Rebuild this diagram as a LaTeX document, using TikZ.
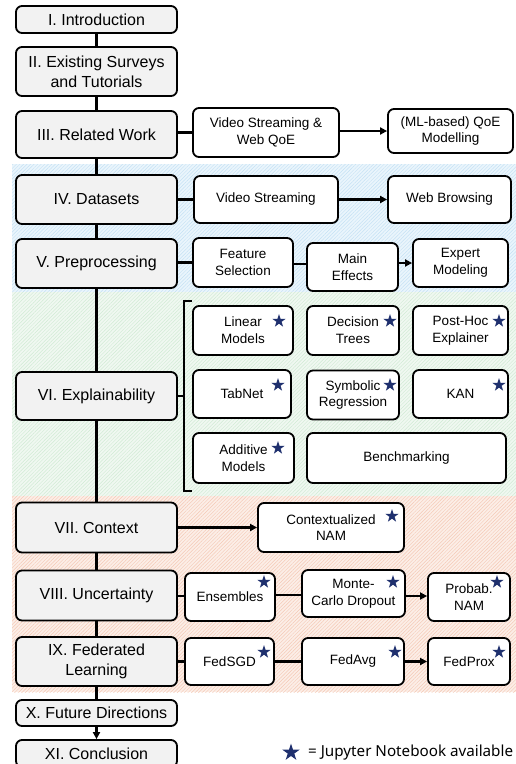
\documentclass[tikz,border=0pt]{standalone}
\usepackage{fontspec}
\setmainfont{Liberation Sans}
\newfontfamily\legendfont{Noto Sans}
\usetikzlibrary{shapes.geometric,arrows.meta,patterns.meta}

\definecolor{mainfill}{HTML}{F2F2F2}
\definecolor{starblue}{HTML}{1F306E}
\definecolor{bluebase}{HTML}{EAF5FC}
\definecolor{bluehatch}{HTML}{C4E1F4}
\definecolor{greenbase}{HTML}{F0F8F1}
\definecolor{greenhatch}{HTML}{D0EBD4}
\definecolor{orangebase}{HTML}{FCEEE7}
\definecolor{orangehatch}{HTML}{F4C9B5}

\tikzset{
  mainbox/.style={draw, fill=mainfill, rounded corners=6pt, line width=1.8pt,
    inner sep=0pt, align=center, font=\fontsize{16}{20}\selectfont},
  subbox/.style={draw, fill=white, rounded corners=6pt, line width=1.8pt,
    inner sep=0pt, align=center, font=\fontsize{13.5}{16.7}\selectfont},
  conn/.style={line width=2.2pt},
  arr/.style={conn, -{Triangle[length=7pt,width=7pt]}},
  nbstar/.style={star, star points=5, star point ratio=2.6, fill=starblue,
    inner sep=0pt, minimum size=14pt},
  band/.style={pattern={Lines[angle=45,distance=2.5pt,line width=0.45pt]}},
}

\begin{document}
\begin{tikzpicture}[x=1pt,y=-1pt]
\useasboundingbox (0,0) rectangle (516,764);

% shaded bands behind the section groups
\fill[bluebase] (12,164) rectangle (516,292);
\fill[band, pattern color=bluehatch] (12,164) rectangle (516,292);
\fill[greenbase] (12,292) rectangle (516,496);
\fill[band, pattern color=greenhatch] (12,292) rectangle (516,496);
\fill[orangebase] (12,496) rectangle (516,692);
\fill[band, pattern color=orangehatch] (12,496) rectangle (516,692);

% section column
\node[mainbox, minimum width=161pt, minimum height=27pt] (s1) at (96.5,19.5) {I. Introduction};
\node[mainbox, minimum width=161pt, minimum height=49pt] (s2) at (96.5,71.5) {II. Existing Surveys\\and Tutorials};
\node[mainbox, minimum width=161pt, minimum height=47pt] (s3) at (96.5,134.5) {III. Related Work};
\node[mainbox, minimum width=161pt, minimum height=49pt] (s4) at (96.5,199.5) {IV. Datasets};
\node[mainbox, minimum width=161pt, minimum height=49pt] (s5) at (96.5,263.5) {V. Preprocessing};
\node[mainbox, minimum width=161pt, minimum height=48pt] (s6) at (96.5,396) {VI. Explainability};
\node[mainbox, minimum width=161pt, minimum height=50pt] (s7) at (96.5,527.5) {VII. Context};
\node[mainbox, minimum width=161pt, minimum height=50pt] (s8) at (96.5,595.5) {VIII. Uncertainty};
\node[mainbox, minimum width=161pt, minimum height=49pt] (s9) at (96.5,661.5) {IX. Federated\\Learning};
\node[mainbox, minimum width=161pt, minimum height=26pt] (s10) at (96.5,713) {X. Future Directions};
\node[mainbox, minimum width=161pt, minimum height=27pt] (s11) at (96.5,753.5) {XI. Conclusion};

\draw[conn] (s1.south) -- (s2.north);
\draw[conn] (s2.south) -- (s3.north);
\draw[conn] (s3.south) -- (s4.north);
\draw[conn] (s4.south) -- (s5.north);
\draw[conn] (s5.south) -- (s6.north);
\draw[conn] (s6.south) -- (s7.north);
\draw[conn] (s7.south) -- (s8.north);
\draw[conn] (s8.south) -- (s9.north);
\draw[conn] (s9.south) -- (s10.north);
\draw[arr] (s10.south) -- (s11.north);

% III. Related Work
\node[subbox, minimum width=146pt, minimum height=49pt] (vsq) at (266,132.5) {Video Streaming \&\\Web QoE};
\node[subbox, minimum width=125pt, minimum height=44pt] (mlq) at (450.5,131) {(ML-based) QoE\\Modelling};
\draw[conn] (s3.east |- vsq.west) -- (vsq.west);
\draw[arr] (vsq.east |- mlq.west) -- (mlq.west);

% IV. Datasets
\node[subbox, minimum width=144pt, minimum height=47pt] (vs) at (266,199.5) {Video Streaming};
\node[subbox, minimum width=123pt, minimum height=47pt] (wb) at (449.5,199.5) {Web Browsing};
\draw[conn] (s4.east |- vs.west) -- (vs.west);
\draw[arr] (vs.east) -- (wb.west);

% V. Preprocessing
\node[subbox, minimum width=100pt, minimum height=49pt] (fs) at (243,262.5) {Feature\\Selection};
\node[subbox, minimum width=91pt, minimum height=48pt] (me) at (352.5,267) {Main\\Effects};
\node[subbox, minimum width=95pt, minimum height=48pt] (em) at (460.5,263) {Expert\\Modeling};
\draw[conn] (s5.east |- fs.west) -- (fs.west);
\draw[conn] (fs.east |- 0,264) -- (me.west |- 0,264);
\draw[arr] (me.east |- em.west) -- (em.west);

% VI. Explainability
\node[subbox, minimum width=100pt, minimum height=49pt] (lm) at (243,330.5) {Linear\\Models};
\node[subbox, minimum width=92pt, minimum height=49pt] (dt) at (353,330.5) {Decision\\Trees};
\node[subbox, minimum width=95pt, minimum height=49pt] (ph) at (460.5,330.5) {Post-Hoc\\Explainer};
\node[subbox, minimum width=98pt, minimum height=48pt] (tn) at (242,394) {TabNet};
\node[subbox, minimum width=92pt, minimum height=49pt] (sr) at (353,395) {Symbolic\\Regression};
\node[subbox, minimum width=95pt, minimum height=48pt] (kan) at (460.5,394) {KAN};
\node[subbox, minimum width=101pt, minimum height=50pt] (am) at (243.5,458) {Additive\\Models};
\node[subbox, minimum width=199pt, minimum height=50pt] (bm) at (406.5,458) {Benchmarking};
\coordinate (brtop) at (192,301);
\coordinate (brbot) at (192,491);
\draw[line width=1.8pt] (brtop) -- (184,301) -- (184,491) -- (brbot);
\draw[line width=1.8pt] (s6.east) -- (184,396);

% VII. Context
\node[subbox, minimum width=146pt, minimum height=49pt] (cn) at (331,527.5) {Contextualized\\NAM};
\draw[arr] (s7.east |- cn.west) -- (cn.west);

% VIII. Uncertainty
\node[subbox, minimum width=90pt, minimum height=48pt] (ens) at (230,597) {Ensembles};
\node[subbox, minimum width=103pt, minimum height=47pt] (mc) at (353.5,593.5) {Monte-\\Carlo Dropout};
\node[subbox, minimum width=82pt, minimum height=48pt] (pn) at (469,597) {Probab.\\NAM};
\draw[conn] (s8.east |- 0,596) -- (ens.west |- 0,596);
\draw[conn] (ens.east |- 0,595) -- (mc.west |- 0,595);
\draw[arr] (mc.east |- 0,596) -- (pn.west |- 0,596);

% IX. Federated Learning
\node[subbox, minimum width=89pt, minimum height=47pt] (sgd) at (229.5,661.5) {FedSGD};
\node[subbox, minimum width=102pt, minimum height=47pt] (avg) at (353,661.5) {FedAvg};
\node[subbox, minimum width=82pt, minimum height=47pt] (prox) at (469,661.5) {FedProx};
\draw[conn] (s9.east |- sgd.west) -- (sgd.west);
\draw[conn] (sgd.east) -- (avg.west);
\draw[arr] (avg.east) -- (prox.west);

% notebook markers
\node[nbstar] (st1) at (279,321) {};
\node[nbstar] (st2) at (390,321) {};
\node[nbstar] (st3) at (499,321) {};
\node[nbstar] (st4) at (278,385) {};
\node[nbstar] (st5) at (390,385) {};
\node[nbstar] (st6) at (499,385) {};
\node[nbstar] (st7) at (278,448) {};
\node[nbstar] (st8) at (392,516) {};
\node[nbstar] (st9) at (264,582) {};
\node[nbstar] (st10) at (393,582) {};
\node[nbstar] (st11) at (497,582) {};
\node[nbstar] (st12) at (264,652) {};
\node[nbstar] (st13) at (395,652) {};
\node[nbstar] (st14) at (499,652) {};

% legend
\node[nbstar, minimum size=18pt] (lgstar) at (291,752.5) {};
\node[anchor=west, inner sep=0pt, font=\legendfont\fontsize{15.2}{18}\selectfont] (lgtext) at (308,753) {=\ Jupyter Notebook available};
\end{tikzpicture}
\end{document}
